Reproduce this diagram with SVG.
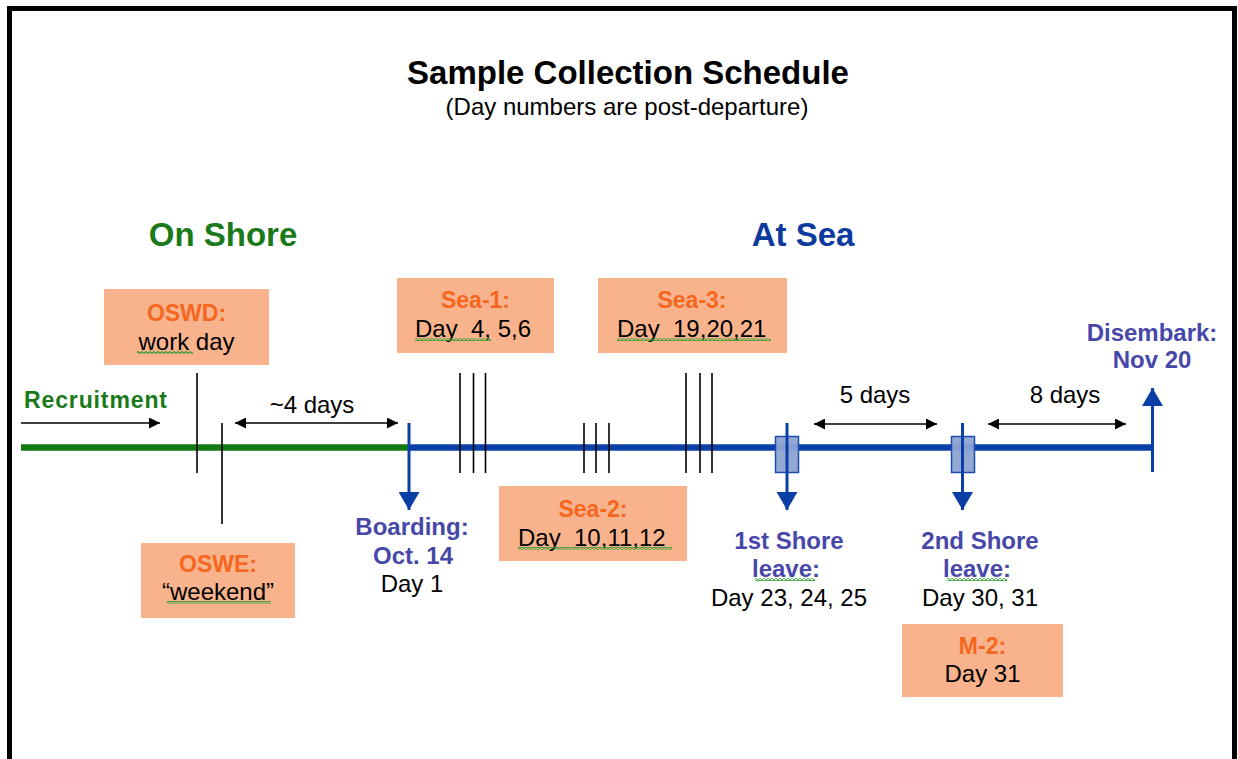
<svg xmlns="http://www.w3.org/2000/svg" width="1238" height="759" viewBox="0 0 1238 759">
<style>
text{font-family:"Liberation Sans",Arial,Helvetica,sans-serif;}
.t{font-size:24px;fill:#000;text-anchor:middle;}
.b{font-weight:bold;}
.or{font-size:23px;font-weight:bold;fill:#f5661e;text-anchor:middle;}
.bl{font-size:24px;font-weight:bold;fill:#4747a9;text-anchor:middle;}
.box{fill:#f8b38c;}
.tick{stroke:#000;stroke-width:1.6;}
.arr{stroke:#000;stroke-width:1.6;fill:none;}
.bar{stroke:#0a3fa6;stroke-width:3;fill:none;}
.sq{fill:url(#squiggle);}
</style>
<defs>
<marker id="ah" viewBox="0 0 10 10" refX="10" refY="5" markerWidth="11" markerHeight="11" markerUnits="userSpaceOnUse" orient="auto-start-reverse"><path d="M0,0 L10,5 L0,10 Z" fill="#000"/></marker>
<marker id="bah" viewBox="0 0 10 10" refX="10" refY="5" markerWidth="18" markerHeight="21" markerUnits="userSpaceOnUse" orient="auto" preserveAspectRatio="none"><path d="M0,0 L10,5 L0,10 Z" fill="#0a3fa6"/></marker>
<pattern id="squiggle" x="0" y="0" width="4" height="3" patternUnits="userSpaceOnUse"><path d="M0,2.5 L2,0.5 L4,2.5" fill="none" stroke="#2e9e2e" stroke-width="1.1"/></pattern>
</defs>
<rect width="1238" height="759" fill="#fff"/>
<path d="M9.5,759 V8.5 H1234.5 V759" fill="none" stroke="#000" stroke-width="5"/>

<g id="title">
<text x="628" y="84" class="b" font-size="33" text-anchor="middle" fill="#000">Sample Collection Schedule</text>
<text x="627" y="115" font-size="24" text-anchor="middle" fill="#000">(Day numbers are post-departure)</text>
</g>
<g id="headers">
<text x="223" y="246" class="b" font-size="33" text-anchor="middle" fill="#1a7a1a">On Shore</text>
<text x="803" y="246" class="b" font-size="33" text-anchor="middle" fill="#0d3a9e">At Sea</text>
</g>

<g id="connectors">
<line x1="21" y1="447.5" x2="409" y2="447.5" stroke="#137a13" stroke-width="6.5"/>
<line x1="409" y1="447.5" x2="1152" y2="447.5" stroke="#0a3fa6" stroke-width="6.5"/>
<line x1="21" y1="423" x2="160" y2="423" class="arr" marker-end="url(#ah)"/>
<line x1="235" y1="423" x2="398" y2="423" class="arr" marker-start="url(#ah)" marker-end="url(#ah)"/>
<line x1="814" y1="424" x2="937" y2="424" class="arr" marker-start="url(#ah)" marker-end="url(#ah)"/>
<line x1="988" y1="424" x2="1126" y2="424" class="arr" marker-start="url(#ah)" marker-end="url(#ah)"/>
<line class="tick" x1="197" y1="373" x2="197" y2="473"/>
<line class="tick" x1="222" y1="423" x2="222" y2="524"/>
<line class="tick" x1="460" y1="373" x2="460" y2="473"/>
<line class="tick" x1="473.5" y1="373" x2="473.5" y2="473"/>
<line class="tick" x1="485.5" y1="373" x2="485.5" y2="473"/>
<line class="tick" x1="584" y1="423" x2="584" y2="473"/>
<line class="tick" x1="596" y1="423" x2="596" y2="473"/>
<line class="tick" x1="609" y1="423" x2="609" y2="473"/>
<line class="tick" x1="686" y1="373" x2="686" y2="473"/>
<line class="tick" x1="700" y1="373" x2="700" y2="473"/>
<line class="tick" x1="712" y1="373" x2="712" y2="473"/>
<rect x="775.5" y="436.5" width="23" height="36" fill="#8ea3d4" stroke="#1a4bb0" stroke-width="1.5" fill-opacity="0.95"/>
<rect x="951.5" y="436.5" width="23" height="36" fill="#8ea3d4" stroke="#1a4bb0" stroke-width="1.5" fill-opacity="0.95"/>
<line class="bar" x1="409" y1="423" x2="409" y2="510" marker-end="url(#bah)"/>
<line class="bar" x1="787" y1="423" x2="787" y2="510" marker-end="url(#bah)"/>
<line class="bar" x1="962.5" y1="423" x2="962.5" y2="510" marker-end="url(#bah)"/>
<line class="bar" x1="1152.5" y1="472" x2="1152.5" y2="388" marker-end="url(#bah)"/>
</g>

<g id="recruitment">
<text x="24" y="408" class="b" font-size="23" fill="#1a7a1a" textLength="143">Recruitment</text>
</g>
<g id="gap-4days"><text x="312" y="413" class="t">~4 days</text></g>
<g id="gap-5days"><text x="875" y="403" class="t">5 days</text></g>
<g id="gap-8days"><text x="1065" y="403" class="t">8 days</text></g>

<g id="oswd">
<rect class="box" x="104" y="289" width="165" height="76"/>
<text x="186.5" y="321" class="or">OSWD:</text>
<text x="186.5" y="350" class="t">work day</text>
<rect class="sq" x="137" y="351" width="56" height="3"/>
</g>
<g id="oswe">
<rect class="box" x="141" y="543" width="154" height="75"/>
<text x="218" y="572" class="or">OSWE:</text>
<text x="218" y="600" class="t">“weekend”</text>
<rect class="sq" x="167" y="601" width="104" height="3"/>
</g>
<g id="sea1">
<rect class="box" x="397" y="278" width="157" height="75"/>
<text x="475.5" y="308" class="or">Sea-1:</text>
<text x="415" y="337" font-size="24" fill="#000" xml:space="preserve">Day  4, 5,6</text>
<rect class="sq" x="415" y="338" width="76" height="3"/>
</g>
<g id="sea2">
<rect class="box" x="499" y="486" width="188" height="75"/>
<text x="593" y="517" class="or">Sea-2:</text>
<text x="518" y="546" font-size="24" fill="#000" xml:space="preserve">Day  10,11,12</text>
<rect class="sq" x="518" y="547" width="154" height="3"/>
</g>
<g id="sea3">
<rect class="box" x="598" y="278" width="189" height="75"/>
<text x="692" y="308" class="or">Sea-3:</text>
<text x="617" y="337" font-size="24" fill="#000" xml:space="preserve">Day  19,20,21</text>
<rect class="sq" x="617" y="338" width="154" height="3"/>
</g>
<g id="m2">
<rect class="box" x="902" y="624" width="161" height="73"/>
<text x="982.5" y="654" class="or">M-2:</text>
<text x="982.5" y="682" class="t">Day 31</text>
</g>

<g id="boarding">
<text x="412" y="535" class="bl">Boarding:</text>
<text x="413" y="564" class="bl">Oct. 14</text>
<text x="412" y="592" class="t">Day 1</text>
</g>
<g id="shore1">
<text x="789" y="549" class="bl">1st Shore</text>
<text x="786" y="577" class="bl">leave:</text>
<rect class="sq" x="755" y="578" width="60" height="3"/>
<text x="789" y="606" class="t">Day 23, 24, 25</text>
</g>
<g id="shore2">
<text x="980" y="549" class="bl">2nd Shore</text>
<text x="977" y="577" class="bl">leave:</text>
<rect class="sq" x="947" y="578" width="60" height="3"/>
<text x="980" y="606" class="t">Day 30, 31</text>
</g>
<g id="disembark">
<text x="1152" y="341" class="bl">Disembark:</text>
<text x="1152" y="368" class="bl">Nov 20</text>
</g>
</svg>
